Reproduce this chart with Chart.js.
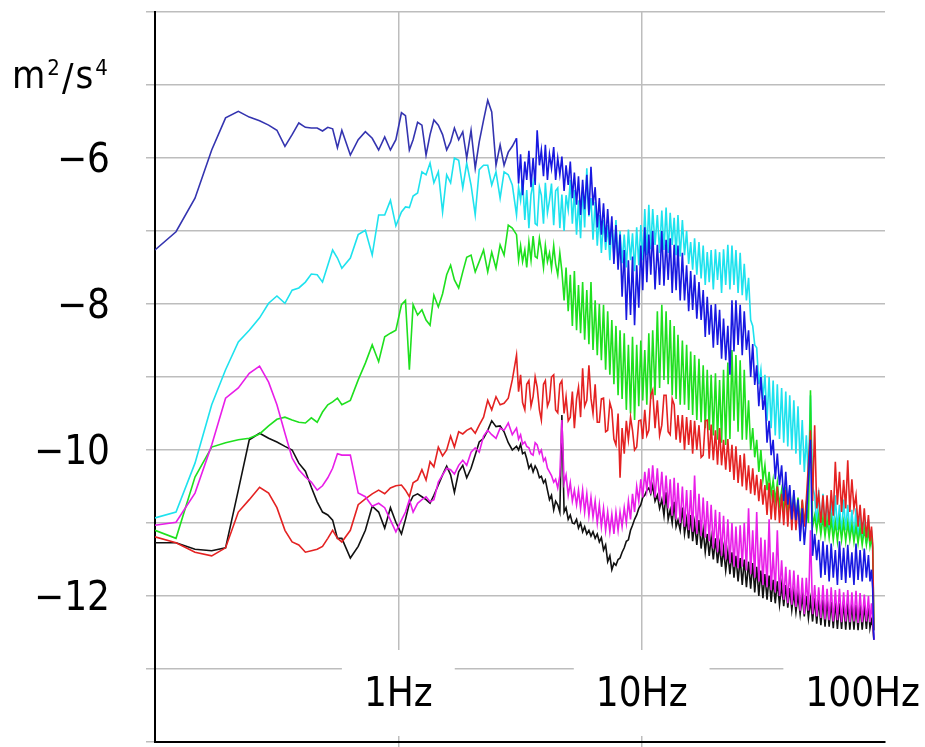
<!DOCTYPE html>
<html>
<head>
<meta charset="utf-8">
<script src="https://cdn.jsdelivr.net/npm/chart.js@4.4.1/dist/chart.umd.min.js"></script>
<style>
  html, body { margin: 0; padding: 0; background: #fff; }
  #wrap { width: 925px; height: 747px; }
</style>
</head>
<body>
<div id="wrap"><canvas id="psd" width="925" height="747"></canvas></div>
<script>
// frequency bins (Hz)
const freqHz = [
    0.1, 0.122, 0.146, 0.171, 0.195, 0.22, 0.244, 0.269, 0.293, 0.317, 0.342, 0.366, 0.39,
    0.415, 0.439, 0.464, 0.488, 0.513, 0.537, 0.562, 0.586, 0.635, 0.684, 0.732, 0.781, 0.83, 0.879, 0.928, 0.977,
    1.03, 1.07, 1.11, 1.15, 1.2, 1.25, 1.3, 1.35, 1.4, 1.46,
    1.52, 1.58, 1.64, 1.7, 1.77, 1.84, 1.91, 1.99, 2.07, 2.15,
    2.24, 2.33, 2.42, 2.52, 2.62, 2.72, 2.83, 2.94,
    3.06, 3.12, 3.18, 3.24, 3.31, 3.37, 3.44, 3.51, 3.58, 3.65,
    3.72, 3.8, 3.87, 3.95, 4.02, 4.1, 4.18, 4.26, 4.35, 4.43,
    4.52, 4.61, 4.7, 4.8, 4.89, 4.99, 5.09, 5.19, 5.29, 5.4,
    5.5, 5.61, 5.72, 5.83, 5.95, 6.07, 6.19, 6.31, 6.44, 6.57,
    6.7, 6.83, 6.97, 7.11, 7.25, 7.4, 7.54, 7.69, 7.84, 8,
    8.15, 8.31, 8.48, 8.65, 8.82, 9, 9.17, 9.35, 9.54, 9.73,
    9.92, 10.1, 10.3, 10.5, 10.7, 10.9, 11.1, 11.35, 11.6, 11.85,
    12.1, 12.35, 12.6, 12.85, 13.1, 13.35, 13.6, 13.85, 14.1, 14.4,
    14.7, 15, 15.3, 15.6, 15.9, 16.2, 16.5, 16.85, 17.2, 17.55,
    17.9, 18.25, 18.6, 18.95, 19.3, 19.7, 20.1, 20.5, 20.9, 21.3,
    21.7, 22.15, 22.6, 23.05, 23.5, 23.95, 24.4, 24.9, 25.4, 25.9,
    26.4, 26.95, 27.5, 28.05, 28.6, 29.15, 29.7, 30.3, 30.9, 31.5,
    32.1, 32.75, 33.4, 34.05, 34.7, 35.4, 36.1, 36.85, 37.6, 38.35,
    39.1, 39.85, 40.6, 41.4, 42.2, 43.05, 43.9, 44.8, 45.7, 46.6,
    47.5, 48.45, 49.4, 50.4, 51.4, 52.4, 53.4, 54.5, 55.6, 56.7,
    57.8, 58.95, 60.1, 61.3, 62.5, 63.75, 65, 66.3, 67.6, 68.95,
    70.3, 71.7, 73.1, 74.55, 76, 77.5, 79, 80.6, 82.2, 83.85,
    85.5, 86.75, 88, 89, 90
];

// log10 PSD values, m^2/s^4
const blueSeries = [
    -7.26, -7.01, -6.55, -5.89, -5.45, -5.36, -5.44, -5.49, -5.55, -5.62, -5.84, -5.68, -5.52,
    -5.58, -5.59, -5.59, -5.63, -5.58, -5.60, -5.86, -5.62, -5.96, -5.75, -5.64, -5.73, -5.89, -5.71, -5.89, -5.75,
    -5.38, -5.42, -5.89, -5.75, -5.51, -5.55, -5.96, -5.68, -5.48, -5.55,
    -5.68, -5.89, -5.78, -5.59, -5.75, -5.64, -6.00, -5.62, -6.14, -5.78,
    -5.48, -5.21, -5.37, -6.10, -5.82, -6.10, -5.92, -5.84,
    -5.73, -6.35, -5.95, -6.51, -6.05, -6.30, -5.90, -6.40, -6.00, -6.37,
    -5.62, -6.10, -5.89, -6.25, -5.82, -6.30, -5.95, -6.14, -5.85, -6.30,
    -6.00, -6.23, -5.98, -6.45, -6.10, -6.37, -6.05, -6.55, -6.20, -6.64,
    -6.25, -6.78, -6.30, -6.70, -6.23, -6.78, -6.12, -6.65, -6.40, -6.95,
    -6.55, -7.05, -6.62, -7.15, -6.70, -7.19, -6.80, -7.45, -6.92, -7.53,
    -7.05, -7.90, -7.26, -8.22, -7.40, -8.15, -7.35, -8.29, -7.47, -8.05,
    -7.20, -7.81, -6.95, -7.70, -7.05, -7.60, -7.00, -7.80, -7.19, -7.74,
    -7.00, -7.75, -7.12, -7.67, -7.10, -7.85, -7.19, -7.81, -7.20, -7.95,
    -7.30, -7.95, -7.47, -8.10, -7.55, -8.08, -7.60, -8.20, -7.70, -8.22,
    -7.81, -8.45, -7.90, -8.42, -8.01, -8.60, -8.00, -8.56, -8.08, -8.75,
    -8.20, -8.77, -8.30, -8.97, -7.95, -8.65, -7.95, -8.56, -8.01, -8.70,
    -8.10, -8.63, -8.36, -9.00, -8.55, -9.11, -8.84, -9.40, -9.00, -9.45,
    -9.25, -9.90, -9.60, -10.07, -9.86, -10.40, -10.05, -10.48, -10.21, -10.70,
    -10.30, -10.75, -10.48, -10.95, -10.55, -10.96, -10.68, -11.25, -10.80, -11.30,
    -10.96, -10.40, -9.86, -11.45, -11.15, -11.51, -11.23, -11.75, -11.25, -11.71,
    -11.30, -11.80, -11.28, -11.75, -11.37, -11.85, -11.25, -11.78, -11.34, -11.82,
    -11.30, -11.75, -11.40, -11.85, -11.28, -11.78, -11.37, -11.80, -11.35, -11.75,
    -11.44, -11.80, -11.64, -11.90, -12.60
];

const cyanSeries = [
    -10.93, -10.85, -10.18, -9.38, -8.90, -8.52, -8.36, -8.19, -7.99, -7.89, -7.99, -7.81, -7.78,
    -7.70, -7.59, -7.60, -7.70, -7.47, -7.26, -7.37, -7.51, -7.37, -7.05, -6.99, -7.33, -6.78, -6.78, -6.58, -6.93,
    -6.74, -6.67, -6.68, -6.52, -6.48, -6.19, -6.23, -6.07, -6.34, -6.19,
    -6.74, -6.23, -6.34, -6.00, -6.03, -6.41, -6.07, -6.37, -6.78, -6.16,
    -6.10, -6.10, -6.37, -6.19, -6.55, -6.19, -6.23, -6.37,
    -6.78, -6.40, -6.58, -6.30, -6.85, -6.44, -6.96, -6.50, -6.34, -6.90,
    -6.92, -6.40, -6.51, -6.90, -6.34, -6.75, -6.58, -6.35, -6.92, -6.45,
    -6.41, -6.96, -6.50, -7.00, -6.51, -6.71, -6.30, -6.90, -6.44, -7.05,
    -6.58, -7.10, -6.40, -6.95, -6.14, -6.80, -6.55, -7.12, -6.60, -7.20,
    -6.78, -7.30, -6.85, -7.26, -6.92, -7.40, -6.88, -7.33, -6.85, -7.45,
    -7.00, -7.44, -7.05, -7.50, -6.98, -7.40, -7.03, -7.55, -6.95, -7.47,
    -6.92, -7.40, -6.70, -7.33, -6.64, -7.25, -6.70, -7.19, -6.78, -7.30,
    -6.72, -7.26, -6.68, -7.30, -6.75, -7.19, -6.82, -7.33, -6.78, -7.35,
    -6.85, -7.33, -7.00, -7.45, -7.15, -7.53, -7.10, -7.60, -7.15, -7.65,
    -7.20, -7.74, -7.29, -7.70, -7.26, -7.80, -7.25, -7.67, -7.29, -7.85,
    -7.25, -7.74, -7.19, -7.80, -7.20, -7.74, -7.26, -7.85, -7.30, -7.88,
    -7.45, -7.95, -7.64, -8.22, -8.30, -8.56, -8.60, -9.10, -8.90, -9.30,
    -8.97, -9.60, -9.00, -9.70, -9.05, -9.80, -9.10, -9.85, -9.15, -9.90,
    -9.20, -9.95, -9.25, -10.00, -9.32, -10.05, -9.40, -10.20, -9.59, -10.30,
    -9.80, -10.40, -9.25, -10.50, -10.62, -11.05, -10.55, -11.10, -10.60, -11.12,
    -10.68, -11.10, -10.70, -11.15, -10.62, -11.10, -10.75, -11.15, -10.68, -11.10,
    -10.75, -11.16, -10.82, -11.20, -10.80, -11.23, -10.89, -11.25, -10.90, -11.28,
    -10.95, -11.30, -11.10, -11.35, -12.47
];

const greenSeries = [
    -11.10, -11.21, -10.37, -9.96, -9.90, -9.86, -9.84, -9.78, -9.67, -9.58, -9.55, -9.59, -9.62,
    -9.63, -9.56, -9.62, -9.48, -9.38, -9.34, -9.29, -9.38, -9.32, -9.04, -8.81, -8.56, -8.79, -8.45, -8.40, -8.36,
    -8.01, -7.95, -8.90, -8.01, -8.15, -8.08, -8.22, -8.29, -7.88, -8.04,
    -7.86, -7.60, -7.47, -7.67, -7.78, -7.56, -7.36, -7.33, -7.56, -7.42,
    -7.26, -7.56, -7.29, -7.51, -7.19, -7.33, -6.92, -6.96,
    -7.05, -7.40, -7.20, -7.42, -7.26, -7.50, -7.15, -7.40, -7.07, -7.35,
    -7.37, -7.10, -7.26, -7.50, -7.20, -7.42, -7.30, -7.51, -7.20, -7.45,
    -7.60, -7.30, -7.55, -7.95, -7.50, -8.10, -7.60, -8.30, -7.55, -8.36,
    -7.74, -8.40, -7.70, -8.49, -7.81, -8.55, -7.70, -8.63, -7.95, -8.70,
    -8.00, -8.77, -8.01, -8.90, -8.10, -8.97, -8.22, -9.10, -8.30, -9.25,
    -8.36, -9.30, -8.40, -9.45, -8.56, -9.50, -8.45, -9.59, -8.56, -9.40,
    -8.50, -9.32, -8.63, -9.38, -8.40, -9.30, -8.36, -9.25, -8.10, -9.15,
    -8.01, -9.04, -8.10, -9.10, -8.22, -9.25, -8.30, -9.30, -8.42, -9.38,
    -8.50, -9.38, -8.56, -9.45, -8.65, -9.52, -8.70, -9.59, -8.75, -9.62,
    -8.84, -9.70, -8.90, -9.73, -8.97, -9.80, -8.95, -9.86, -9.04, -9.90,
    -8.90, -9.93, -8.80, -9.85, -8.63, -9.60, -8.70, -9.75, -8.77, -9.86,
    -8.90, -9.86, -9.32, -10.00, -9.70, -10.10, -9.86, -10.30, -10.00, -10.41,
    -10.21, -10.55, -10.30, -10.62, -10.41, -10.70, -10.45, -10.75, -10.55, -10.85,
    -10.50, -10.89, -10.55, -10.92, -10.60, -10.96, -10.65, -11.00, -10.70, -11.03,
    -10.75, -11.00, -9.18, -11.05, -10.90, -11.10, -10.89, -11.16, -10.92, -11.18,
    -10.96, -11.20, -10.95, -11.23, -10.99, -11.25, -10.97, -11.23, -10.99, -11.25,
    -11.00, -11.23, -11.03, -11.26, -11.05, -11.28, -11.07, -11.30, -11.08, -11.30,
    -11.10, -11.32, -11.20, -11.34, -12.47
];

const redSeries = [
    -11.19, -11.27, -11.40, -11.45, -11.34, -10.85, -10.68, -10.51, -10.59, -10.79, -11.10, -11.26, -11.30,
    -11.40, -11.38, -11.36, -11.32, -11.21, -11.10, -11.21, -11.26, -11.10, -10.75, -10.67, -10.60, -10.55, -10.60, -10.52, -10.49,
    -10.48, -10.55, -10.64, -10.45, -10.41, -10.27, -10.41, -10.16, -10.23, -9.96,
    -10.08, -10.00, -9.81, -9.96, -9.75, -9.78, -9.73, -9.70, -9.77, -9.66,
    -9.55, -9.32, -9.45, -9.27, -9.38, -9.36, -9.29, -9.04,
    -8.70, -9.20, -8.97, -9.35, -9.45, -9.10, -9.05, -9.40, -9.27, -9.00,
    -9.14, -9.45, -9.59, -9.10, -9.05, -9.40, -9.32, -9.00, -8.97, -9.45,
    -9.49, -9.10, -9.05, -9.50, -9.27, -9.60, -9.55, -9.20, -9.70, -9.30,
    -9.14, -9.55, -8.88, -9.40, -9.32, -8.84, -9.29, -9.50, -9.10, -9.62,
    -9.62, -9.30, -9.29, -9.75, -9.73, -9.35, -9.45, -9.85, -9.93, -9.50,
    -10.38, -9.70, -10.05, -9.60, -9.86, -9.55, -9.73, -10.00, -9.96, -9.60,
    -9.59, -9.85, -9.45, -9.80, -9.73, -9.25, -9.18, -9.70, -9.32, -9.80,
    -9.66, -9.25, -9.25, -9.75, -9.79, -9.30, -9.38, -9.86, -9.52, -9.90,
    -9.52, -10.00, -9.55, -9.93, -9.59, -10.05, -9.60, -10.00, -9.66, -10.10,
    -10.07, -9.60, -9.59, -10.12, -9.65, -10.14, -9.73, -10.20, -9.70, -10.21,
    -9.86, -10.27, -9.85, -10.30, -9.93, -10.41, -9.95, -10.45, -10.07, -10.50,
    -10.05, -10.55, -10.21, -10.60, -10.25, -10.62, -10.34, -10.70, -10.40, -10.75,
    -10.48, -10.89, -10.45, -10.95, -10.55, -10.96, -10.50, -11.00, -10.60, -11.03,
    -10.55, -11.05, -10.60, -11.10, -10.65, -11.10, -10.70, -11.16, -10.68, -11.05,
    -10.68, -10.20, -9.73, -10.70, -9.66, -10.80, -10.60, -11.00, -10.62, -11.05,
    -10.62, -11.03, -10.55, -10.90, -10.16, -10.75, -10.30, -10.85, -10.41, -10.80,
    -10.14, -10.85, -10.40, -10.80, -10.62, -11.05, -10.75, -11.15, -10.80, -11.20,
    -10.89, -11.25, -11.05, -11.28, -12.47
];

const magentaSeries = [
    -11.03, -10.99, -10.59, -9.93, -9.29, -9.15, -8.95, -8.85, -9.07, -9.38, -9.77, -10.11, -10.27,
    -10.37, -10.44, -10.55, -10.49, -10.38, -10.25, -10.05, -10.07, -10.07, -10.59, -10.64, -10.77, -10.73, -10.79, -10.96, -11.12,
    -10.96, -10.85, -10.68, -10.85, -10.73, -10.68, -10.64, -10.71, -10.68, -10.44,
    -10.34, -10.25, -10.27, -10.33, -10.21, -10.14, -10.21, -10.03, -9.97, -10.03,
    -9.81, -9.73, -9.79, -9.84, -9.70, -9.73, -9.63, -9.79,
    -9.70, -9.85, -9.79, -9.92, -9.89, -9.95, -9.97, -10.05, -10.07, -9.90,
    -9.93, -10.05, -10.00, -10.15, -10.11, -10.25, -10.30, -10.35, -10.44, -10.40,
    -10.52, -10.35, -9.59, -10.45, -10.34, -10.62, -10.45, -10.70, -10.55, -10.75,
    -10.55, -10.80, -10.55, -10.85, -10.60, -10.90, -10.65, -10.92, -10.70, -11.00,
    -10.75, -11.05, -10.80, -11.10, -10.85, -11.12, -10.88, -11.15, -10.85, -11.10,
    -10.85, -11.05, -10.79, -11.00, -10.70, -10.95, -10.60, -10.85, -10.50, -10.70,
    -10.40, -10.65, -10.30, -10.55, -10.25, -10.60, -10.21, -10.65, -10.25, -10.70,
    -10.30, -10.75, -10.35, -10.80, -10.40, -10.90, -10.38, -10.95, -10.45, -11.00,
    -10.50, -11.05, -10.55, -11.10, -10.55, -11.12, -10.35, -11.15, -10.60, -11.18,
    -10.65, -11.20, -10.70, -11.25, -10.75, -11.35, -10.82, -11.40, -10.85, -11.45,
    -10.90, -11.50, -10.95, -11.55, -11.00, -11.60, -11.05, -11.62, -11.03, -11.60,
    -11.00, -11.65, -10.80, -11.70, -11.10, -11.75, -10.85, -11.80, -11.20, -11.85,
    -11.23, -11.88, -10.95, -11.92, -11.40, -11.95, -11.10, -12.00, -11.51, -12.05,
    -11.60, -12.10, -11.64, -12.12, -11.65, -12.15, -11.71, -12.20, -11.75, -12.25,
    -11.75, -12.20, -11.10, -12.25, -11.85, -12.28, -11.88, -12.30, -11.85, -12.32,
    -11.90, -12.33, -11.88, -12.35, -11.92, -12.33, -11.90, -12.36, -11.95, -12.35,
    -11.92, -12.36, -11.95, -12.35, -11.93, -12.37, -11.96, -12.36, -11.98, -12.35,
    -12.00, -12.36, -12.10, -12.30, -12.60
];

const blackSeries = [
    -11.27, -11.27, -11.36, -11.38, -11.34, -10.55, -9.86, -9.77, -9.84, -9.89, -9.95, -10.00, -10.18,
    -10.29, -10.51, -10.71, -10.85, -10.89, -10.96, -11.21, -11.21, -11.48, -11.32, -11.10, -10.77, -10.85, -11.07, -10.79, -10.99,
    -11.15, -10.95, -10.73, -10.63, -10.60, -10.64, -10.68, -10.73, -10.62, -10.48,
    -10.34, -10.22, -10.34, -10.58, -10.30, -10.21, -10.38, -10.25, -10.07, -9.89,
    -9.84, -9.73, -9.60, -9.68, -9.67, -9.75, -9.90, -10.00,
    -9.95, -10.00, -9.92, -10.05, -10.03, -10.12, -10.25, -10.20, -10.30, -10.22,
    -10.27, -10.38, -10.36, -10.45, -10.41, -10.55, -10.68, -10.62, -10.82, -10.70,
    -10.75, -10.85, -9.52, -10.85, -10.79, -10.95, -10.89, -11.00, -11.01, -10.95,
    -11.07, -11.00, -11.12, -11.05, -11.15, -11.10, -11.18, -11.12, -11.21, -11.15,
    -11.26, -11.20, -11.37, -11.30, -11.53, -11.45, -11.64, -11.55, -11.58, -11.50,
    -11.48, -11.40, -11.34, -11.25, -11.23, -11.10, -11.03, -10.95, -10.89, -10.80,
    -10.75, -10.65, -10.62, -10.55, -10.52, -10.60, -10.49, -10.70, -10.62, -10.80,
    -10.68, -10.90, -10.58, -10.95, -10.82, -11.00, -10.71, -11.05, -10.96, -11.10,
    -10.79, -11.15, -10.95, -11.21, -10.89, -11.25, -11.00, -11.30, -10.96, -11.35,
    -11.10, -11.40, -11.15, -11.45, -11.20, -11.50, -11.21, -11.55, -11.30, -11.60,
    -11.35, -11.65, -11.40, -11.70, -11.40, -11.75, -11.45, -11.80, -11.48, -11.85,
    -11.50, -11.88, -11.53, -11.90, -11.55, -11.95, -11.60, -12.00, -11.65, -12.03,
    -11.70, -12.05, -11.72, -12.08, -11.78, -12.10, -11.80, -12.12, -11.85, -12.14,
    -11.85, -12.16, -11.89, -12.19, -11.95, -12.22, -11.98, -12.25, -12.00, -12.28,
    -12.00, -12.30, -12.05, -12.35, -12.03, -12.38, -12.05, -12.40, -12.05, -12.42,
    -12.05, -12.42, -12.08, -12.44, -12.08, -12.45, -12.10, -12.45, -12.08, -12.46,
    -12.10, -12.46, -12.11, -12.46, -12.12, -12.47, -12.12, -12.46, -12.12, -12.45,
    -12.12, -12.44, -12.33, -12.40, -12.60
];

const yLabelValues = [-6, -8, -10, -12];
const xLabelHz = [1, 10, 100];
const xLabels = ["1Hz", "10Hz", "100Hz"];

const FONT = "'Liberation Sans Narrow', 'DejaVu Sans Condensed', 'Liberation Sans', sans-serif";

function toPoints(values) {
    return freqHz.map((f, i) => ({ x: f, y: values[i] }));
}

// keep the plot area where the original has it
function noPadding(scale) {
    scale.paddingTop = 0;
    scale.paddingBottom = 0;
    scale.paddingLeft = 0;
    scale.paddingRight = 0;
}

const overlayPlugin = {
    id: "overlay",
    afterDraw(chart) {
        const ctx = chart.ctx;
        const xs = chart.scales.x;
        const bottom = chart.chartArea.bottom;

        ctx.save();

        // x labels sit inside the plot on white boxes
        ctx.font = "40px " + FONT;
        ctx.textAlign = "center";
        ctx.textBaseline = "middle";
        xLabels.forEach((label, i) => {
            const w = ctx.measureText(label).width;
            let cx = xs.getPixelForValue(xLabelHz[i]);
            cx = Math.min(cx, chart.width - w / 2 - 5);
            ctx.fillStyle = "#fff";
            ctx.fillRect(cx - w / 2 - 22, bottom - 92, w + 44, 86);
            ctx.fillStyle = "#000";
            ctx.fillText(label, cx, bottom - 46);
        });

        // unit label m^2/s^4
        ctx.textAlign = "left";
        ctx.textBaseline = "alphabetic";
        let x = 12;
        const parts = [["m", 38, 88], ["2", 22, 75], ["/", 38, 90], ["s", 38, 88], ["4", 22, 75]];
        parts.forEach(([t, size, base]) => {
            ctx.font = size + "px " + FONT;
            ctx.fillText(t, x, base);
            x += ctx.measureText(t).width + 2;
        });

        ctx.restore();
    }
};

const lineSet = (values, color) => ({
    data: toPoints(values),
    borderColor: color,
    borderWidth: 1.6,
    pointRadius: 0,
    tension: 0,
    fill: false
});

const blueSet = lineSet(blueSeries, "#1818e0");
// the sparse low-frequency part reads darker in the original
blueSet.segment = {
    borderColor: (c) => c.p0.parsed.x < 3 ? "#3434b0" : "#1818e0"
};

new Chart(document.getElementById("psd"), {
    type: "line",
    data: {
        datasets: [
            blueSet,
            lineSet(magentaSeries, "#e81ee8"),
            lineSet(redSeries, "#e42222"),
            lineSet(greenSeries, "#1ee01e"),
            lineSet(cyanSeries, "#1ee2ee"),
            lineSet(blackSeries, "#111111")
        ]
    },
    options: {
        responsive: false,
        animation: false,
        events: [],
        layout: { padding: { top: 12, right: 40, left: 0, bottom: 0 } },
        plugins: {
            legend: { display: false },
            tooltip: { enabled: false }
        },
        scales: {
            x: {
                type: "logarithmic",
                min: 0.1,
                max: 100,
                afterBuildTicks: (scale) => {
                    scale.ticks = [{ value: 1 }, { value: 10 }];
                },
                afterFit: (scale) => { scale.height = 5; noPadding(scale); },
                ticks: { display: false },
                grid: { color: "#bdbdbd", lineWidth: 1.5, tickLength: 6 },
                border: { color: "#000", width: 2 }
            },
            y: {
                min: -14,
                max: -4,
                afterFit: (scale) => { scale.width = 155; noPadding(scale); },
                ticks: {
                    stepSize: 1,
                    autoSkip: false,
                    padding: 36,
                    labelOffset: 4,
                    color: "#000",
                    font: { family: FONT, size: 40 },
                    callback: (v) => yLabelValues.includes(v) ? "\u2212" + Math.abs(v) : ""
                },
                grid: { color: "#bdbdbd", lineWidth: 1.5, tickLength: 9 },
                border: { color: "#000", width: 2 }
            }
        }
    },
    plugins: [overlayPlugin]
});
</script>
</body>
</html>
